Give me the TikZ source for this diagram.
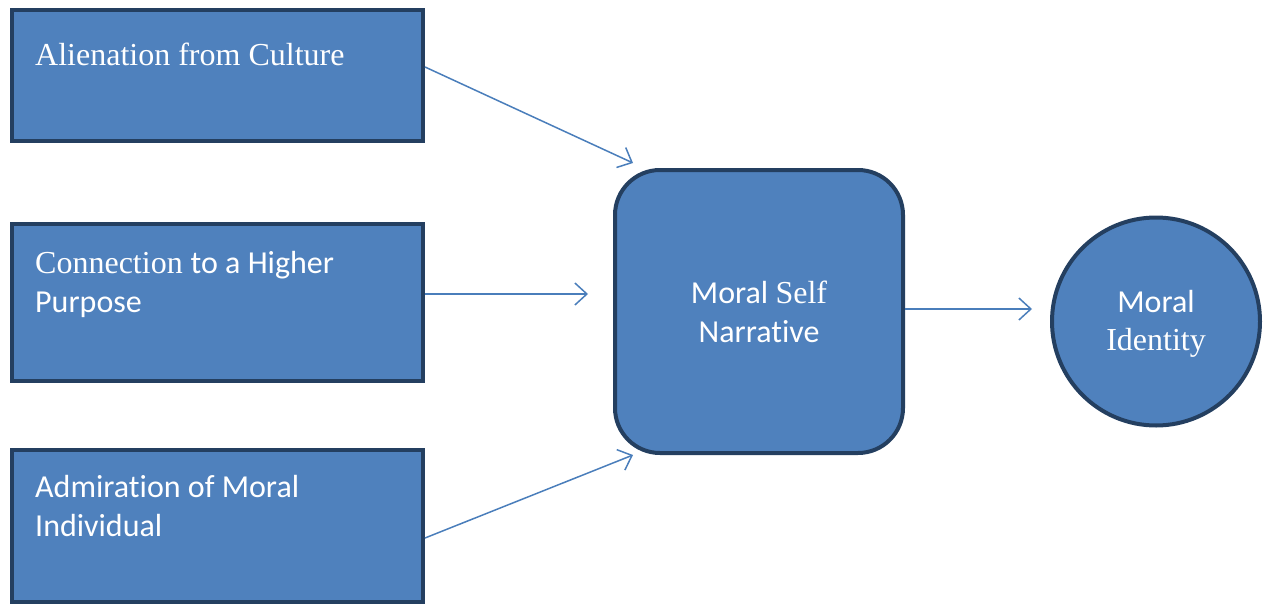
\documentclass[tikz,border=0pt]{standalone}
\usepackage{fontspec}
\setmainfont{Liberation Serif}
\newfontfamily\tnrf{Liberation Serif}
\newfontfamily\calf[Ligatures={NoCommon}]{Carlito}
\usetikzlibrary{arrows.meta,calc}
\definecolor{boxfill}{HTML}{4F81BD}
\definecolor{boxline}{HTML}{243F60}
\definecolor{arrowc}{HTML}{4A7EBB}
\tikzset{
  sqbox/.style={draw=boxline, fill=boxfill, line width=4pt, rectangle, minimum width=411pt, inner sep=0pt},
  rbox/.style={draw=boxline, fill=boxfill, line width=4pt, rectangle, rounded corners=45pt, minimum width=288pt, minimum height=283pt, inner sep=0pt},
  cbox/.style={draw=boxline, fill=boxfill, line width=4pt, circle, minimum size=208pt, inner sep=0pt},
  txt/.style={text=white, font=\fontsize{32}{39}\selectfont, inner sep=0pt},
  conn/.style={draw=arrowc, line width=1.5pt, -{Straight Barb[length=12pt,width=22pt,line width=1.5pt]}}
}
\begin{document}
\begin{tikzpicture}[x=1pt,y=-1pt]
\useasboundingbox (0,0) rectangle (1263,605);
\node[sqbox, minimum height=131pt] (b1) at (217.5,75.5) {};
\node[sqbox, minimum height=157pt] (b2) at (217.5,302.5) {};
\node[sqbox, minimum height=152pt] (b3) at (217.5,526) {};
\node[rbox] (nsn) at (759,311.5) {};
\node[cbox] (mi) at (1156,321.5) {};
\node[txt, anchor=base west, align=left] (t1) at (35,65) {\tnrf Alienation from Culture};
\node[txt, anchor=base west, align=left] (t2) at (35,273) {\tnrf Connection \calf to a Higher};
\node[txt, anchor=base west, align=left] (t2b) at (35,312) {\calf Purpose};
\node[txt, anchor=base west, align=left] (t3) at (35,497) {\calf Admiration of Moral};
\node[txt, anchor=base west, align=left] (t3b) at (35,536) {\calf Individual};
\node[txt, anchor=base] (t4) at (759,303) {\calf Moral \tnrf Self};
\node[txt, anchor=base] (t4b) at (759,342) {\calf Narrative};
\node[txt, anchor=base] (t5) at (1156,312) {\calf Moral};
\node[txt, anchor=base] (t5b) at (1156,350) {\tnrf Identity};
\draw[conn] ($(b1.east)+(0,-8.5)$) -- ($(nsn.north west)+(20,-5)$);
\draw[conn] ($(b2.east)+(0,-8.5)$) -- ($(nsn.west)+(-25,-17.5)$);
\draw[conn] ($(b3.east)+(0,12)$) -- ($(nsn.south west)+(20,0)$);
\draw[conn] ($(nsn.east)+(0,-2.5)$) -- ($(mi.west)+(-18,-12.5)$);
\end{tikzpicture}
\end{document}
